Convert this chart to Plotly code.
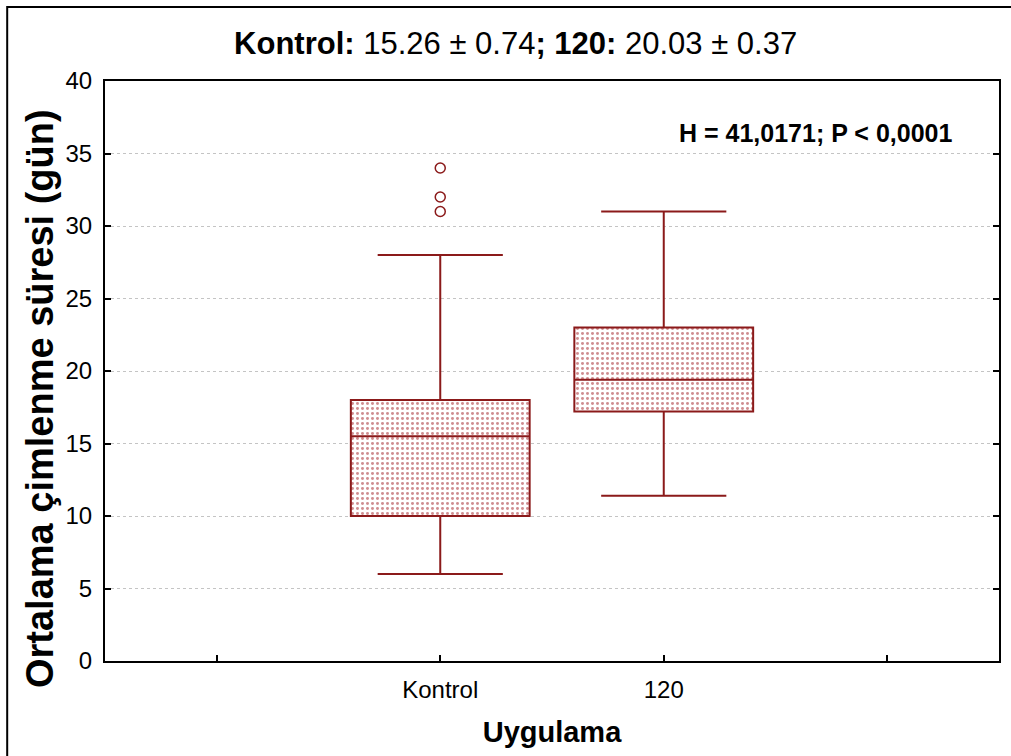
import plotly.graph_objects as go

# Group positions and labels
groups = ["Kontrol", "120"]
positions = [0, 1]

# Box summary statistics (days)
q1 = [10.0, 17.2]
median = [15.5, 19.4]
q3 = [18.0, 23.0]
lower_whisker = [6.0, 11.4]
upper_whisker = [28.0, 31.0]

# Outliers of the Kontrol group
outlier_x = [0, 0, 0]
outlier_y = [31.0, 32.0, 34.0]

# Category axis ticks (empty slots at both ends)
tick_positions = [-1, 0, 1, 2]
tick_labels = ["", "Kontrol", "120", ""]

y_ticks = [0, 5, 10, 15, 20, 25, 30, 35, 40]

DARK_RED = "#8b1a1a"
BOX_WIDTH = 0.80
FONT = "Liberation Sans, Arial, sans-serif"

fig = go.Figure()

# Dotted fill of the interquartile range
fig.add_trace(go.Bar(
    x=positions,
    y=[b - a for a, b in zip(q1, q3)],
    base=q1,
    width=BOX_WIDTH,
    marker=dict(
        color="white",
        line=dict(width=0),
        pattern=dict(shape=".", fgcolor="#a01c22", bgcolor="white",
                     size=5, solidity=0.28, fillmode="overlay"),
    ),
    hoverinfo="skip",
    showlegend=False,
))

# Box outlines, medians and whiskers
fig.add_trace(go.Box(
    x=positions,
    q1=q1,
    median=median,
    q3=q3,
    lowerfence=lower_whisker,
    upperfence=upper_whisker,
    width=BOX_WIDTH,
    whiskerwidth=0.7,
    fillcolor="rgba(0,0,0,0)",
    line=dict(color=DARK_RED, width=2),
    boxpoints=False,
    showlegend=False,
))

# Outliers
fig.add_trace(go.Scatter(
    x=outlier_x,
    y=outlier_y,
    mode="markers",
    marker=dict(symbol="circle-open", size=10, color=DARK_RED,
                line=dict(width=1.5, color=DARK_RED)),
    showlegend=False,
))

fig.update_layout(
    width=1011,
    height=756,
    margin=dict(l=105, r=10, t=81, b=95),
    paper_bgcolor="white",
    plot_bgcolor="white",
    font=dict(family=FONT, color="black"),
    barmode="overlay",
    title=dict(
        text="<b>Kontrol:</b> 15.26 ± 0.74<b>; 120:</b> 20.03 ± 0.37",
        x=0.51, xanchor="center", y=0.943, yanchor="middle",
        font=dict(size=31, family=FONT, color="black"),
    ),
    xaxis=dict(
        range=[-1.5, 2.5],
        tickmode="array",
        tickvals=tick_positions,
        ticktext=tick_labels,
        ticks="inside",
        ticklen=6,
        tickwidth=1.5,
        tickcolor="black",
        ticklabelstandoff=6,
        showline=True,
        linecolor="black",
        linewidth=2,
        mirror=True,
        showgrid=False,
        zeroline=False,
        tickfont=dict(size=24, family=FONT, color="black"),
        title=dict(text="<b>Uygulama</b>", standoff=20,
                   font=dict(size=29, family=FONT, color="black")),
    ),
    yaxis=dict(
        range=[0, 40],
        tickmode="array",
        tickvals=y_ticks,
        ticks="inside",
        ticklen=6,
        tickwidth=2,
        tickcolor="black",
        ticklabelstandoff=6,
        showline=True,
        linecolor="black",
        linewidth=2,
        mirror="allticks",
        showgrid=True,
        gridcolor="#c4c4c4",
        gridwidth=1,
        griddash="dot",
        zeroline=False,
        tickfont=dict(size=24, family=FONT, color="black"),
    ),
    annotations=[
        dict(
            text="<b>H = 41,0171; P < 0,0001</b>",
            xref="paper", yref="paper",
            x=0.95, y=0.91, xanchor="right", yanchor="middle",
            showarrow=False,
            font=dict(size=25, family=FONT, color="black"),
        ),
        # Y axis title
        dict(
            text="<b>Ortalama çimlenme süresi (gün)</b>",
            xref="paper", yref="paper",
            x=-0.0725, y=0.452, xanchor="center", yanchor="middle",
            textangle=-90,
            showarrow=False,
            font=dict(size=38, family=FONT, color="black"),
        ),
    ],
    shapes=[dict(
        type="rect", xref="paper", yref="paper",
        x0=-0.1094, y0=-0.25, x1=1.3, y1=1.1276,
        line=dict(color="black", width=2),
        fillcolor="rgba(0,0,0,0)",
        layer="below",
    )],
)

fig.write_html("out.html")
